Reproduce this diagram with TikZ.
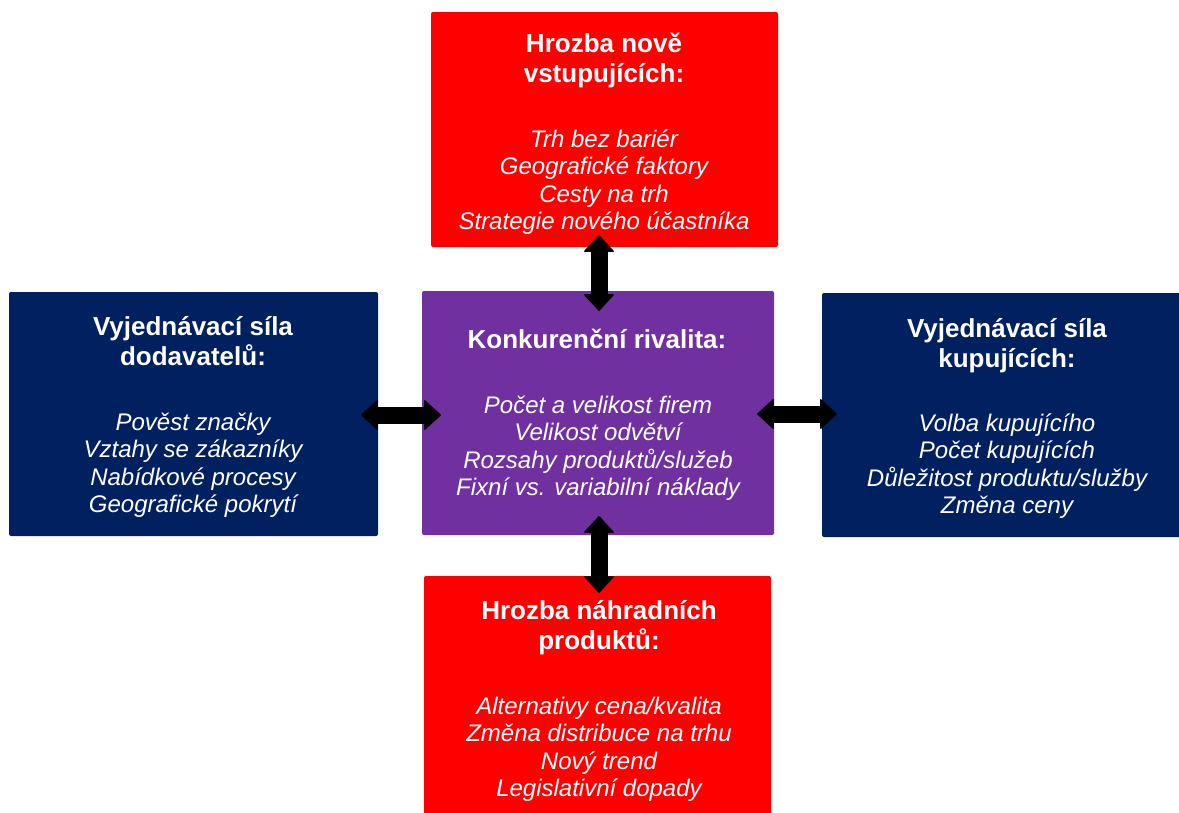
\documentclass[tikz,border=0pt]{standalone}
\usepackage{fontspec}
\setmainfont{Liberation Sans}
\usetikzlibrary{arrows.meta}
\definecolor{fred}{HTML}{FF0000}
\definecolor{fnavy}{HTML}{002060}
\definecolor{fpurple}{HTML}{7030A0}
\newcommand{\lines}[1]{\begin{tabular}[t]{@{}c@{}}#1\end{tabular}}
\begin{document}
\begin{tikzpicture}[x=1pt,y=-1pt,
  box/.style={anchor=north west, inner sep=0pt, outer sep=0pt, rounded corners=2pt, draw=none},
  ttl/.style={anchor=base, inner sep=0pt, text=white, font=\fontsize{26}{30}\selectfont\bfseries},
  bdy/.style={anchor=base, inner sep=0pt, text=white, font=\fontsize{24}{27.5}\selectfont\itshape},
  dbl/.style={black, line width=17pt,
    {Triangle[length=17pt,width=31pt,line width=1pt,round]}-{Triangle[length=17pt,width=31pt,line width=1pt,round]}}
]
\useasboundingbox (0,0) rectangle (1179,812);
\fill[white] (0,0) rectangle (1179,812);

% boxes
\node[box, fill=fred, minimum width=347pt, minimum height=235pt] (top) at (431,12) {};
\node[box, fill=fpurple, minimum width=352pt, minimum height=244pt] (ctr) at (422,291) {};
\node[box, fill=fnavy, minimum width=369pt, minimum height=244pt] (lft) at (9,292) {};
\node[box, fill=fnavy, minimum width=360pt, minimum height=244pt] (rgt) at (822,293) {};
\node[box, fill=fred, minimum width=347pt, minimum height=240pt] (bot) at (424,576) {};

% texts
\node[ttl] (topT) at (604,52) {\lines{Hrozba nově\\vstupujících:}};
\node[bdy] (topB) at (604,147) {\lines{Trh bez bariér\\Geografické faktory\\Cesty na trh\\Strategie nového účastníka}};

\node[ttl] (ctrT) at (597,348) {\lines{Konkurenční rivalita:}};
\node[bdy] (ctrB) at (598,413) {\lines{Počet a velikost firem\\Velikost odvětví\\Rozsahy produktů/služeb\\Fixní vs. variabilní náklady}};

\node[ttl] (lftT) at (193,335) {\lines{Vyjednávací síla\\dodavatelů:}};
\node[bdy] (lftB) at (193,430) {\lines{Pověst značky\\Vztahy se zákazníky\\Nabídkové procesy\\Geografické pokrytí}};

\node[ttl] (rgtT) at (1007,337) {\lines{Vyjednávací síla\\kupujících:}};
\node[bdy] (rgtB) at (1007,431) {\lines{Volba kupujícího\\Počet kupujících\\Důležitost produktu/služby\\Změna ceny}};

\node[ttl] (botT) at (599,619) {\lines{Hrozba náhradních\\produktů:}};
\node[bdy] (botB) at (599,714) {\lines{Alternativy cena/kvalita\\Změna distribuce na trhu\\Nový trend\\Legislativní dopady}};

% arrows
\draw[dbl] ([xshift=-5.5pt,yshift=12pt]top.south) -- ([xshift=1pt,yshift=-20pt]ctr.north);
\draw[dbl] ([xshift=1pt,yshift=19pt]ctr.south) -- ([xshift=1.5pt,yshift=-17pt]bot.north);
\draw[dbl] ([xshift=-17pt,yshift=-1pt]lft.east) -- ([xshift=19pt,yshift=-2pt]ctr.west);
\draw[dbl] ([xshift=-17pt,yshift=-1pt]ctr.east) -- ([xshift=15pt,yshift=1pt]rgt.west);
\end{tikzpicture}
\end{document}
